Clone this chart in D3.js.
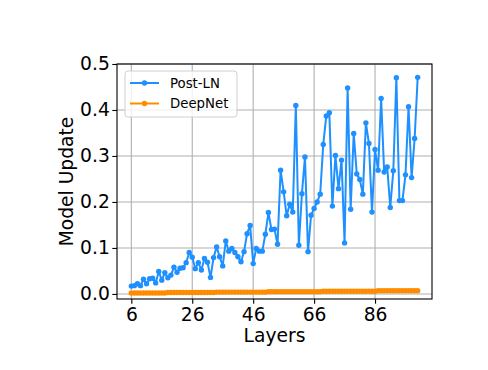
<!DOCTYPE html>
<html>
<head>
<meta charset="utf-8">
<script src="https://cdn.jsdelivr.net/npm/d3@7"></script>
<style>
  body { margin: 0; background: #fff; }
  text { font-family: "DejaVu Sans", sans-serif; fill: #000; }
</style>
</head>
<body>
<div id="chart"></div>
<script>
// layers 6..100, one value per layer
var layers = d3.range(6, 101);

var postLN = [
  0.017, 0.018, 0.022, 0.018, 0.032, 0.022, 0.033, 0.034, 0.024, 0.049,
  0.030, 0.046, 0.035, 0.041, 0.058, 0.047, 0.056, 0.057, 0.068, 0.090,
  0.080, 0.055, 0.068, 0.052, 0.077, 0.069, 0.036, 0.079, 0.102, 0.081,
  0.061, 0.115, 0.093, 0.099, 0.090, 0.081, 0.070, 0.092, 0.131, 0.149,
  0.066, 0.099, 0.093, 0.093, 0.130, 0.177, 0.140, 0.141, 0.108, 0.269,
  0.222, 0.170, 0.195, 0.178, 0.410, 0.106, 0.218, 0.298, 0.092, 0.171,
  0.186, 0.200, 0.217, 0.325, 0.387, 0.394, 0.191, 0.301, 0.229, 0.291,
  0.111, 0.448, 0.184, 0.349, 0.261, 0.249, 0.217, 0.372, 0.327, 0.178,
  0.314, 0.269, 0.425, 0.265, 0.276, 0.188, 0.268, 0.470, 0.203, 0.203,
  0.259, 0.407, 0.253, 0.338, 0.471
];

var deepNet = [
  0.002, 0.002, 0.002, 0.002, 0.002, 0.002, 0.002, 0.002, 0.002, 0.002,
  0.002, 0.002, 0.003, 0.003, 0.003, 0.003, 0.003, 0.003, 0.003, 0.003,
  0.003, 0.003, 0.003, 0.003, 0.003, 0.003, 0.003, 0.003, 0.004, 0.004,
  0.004, 0.004, 0.004, 0.004, 0.004, 0.004, 0.004, 0.004, 0.004, 0.004,
  0.004, 0.004, 0.004, 0.004, 0.004, 0.005, 0.005, 0.005, 0.005, 0.005,
  0.005, 0.005, 0.005, 0.005, 0.005, 0.005, 0.005, 0.005, 0.005, 0.005,
  0.005, 0.005, 0.005, 0.006, 0.006, 0.006, 0.006, 0.006, 0.006, 0.006,
  0.006, 0.006, 0.006, 0.006, 0.006, 0.006, 0.006, 0.006, 0.006, 0.006,
  0.006, 0.007, 0.007, 0.007, 0.007, 0.007, 0.007, 0.007, 0.007, 0.007,
  0.007, 0.007, 0.007, 0.007, 0.007
];

var xTicks = [6, 26, 46, 66, 86];
var yTicks = [0.0, 0.1, 0.2, 0.3, 0.4, 0.5];

var series = [
  {name: "Post-LN", values: postLN, color: "#1e90ff"},
  {name: "DeepNet", values: deepNet, color: "#ff8c00"}
];

var W = 488, H = 370;
var plot = {left: 117, right: 432, top: 64, bottom: 299};

var svg = d3.select("#chart").append("svg")
    .attr("width", W)
    .attr("height", H);

var x = d3.scaleLinear()
    .domain([1.3, 104.7])
    .range([plot.left, plot.right]);

var y = d3.scaleLinear()
    .domain([-0.011, 0.5])
    .range([plot.bottom, plot.top]);

// grid
svg.append("g")
  .selectAll("line")
  .data(xTicks)
  .enter()
  .append("line")
    .attr("x1", function(d) { return x(d); })
    .attr("x2", function(d) { return x(d); })
    .attr("y1", plot.top)
    .attr("y2", plot.bottom)
    .style("stroke", "#b0b0b0")
    .style("stroke-width", 1.1);

svg.append("g")
  .selectAll("line")
  .data(yTicks)
  .enter()
  .append("line")
    .attr("x1", plot.left)
    .attr("x2", plot.right)
    .attr("y1", function(d) { return y(d); })
    .attr("y2", function(d) { return y(d); })
    .style("stroke", "#b0b0b0")
    .style("stroke-width", 1.1);

// lines + markers
var line = d3.line()
    .x(function(d, i) { return x(layers[i]); })
    .y(function(d) { return y(d); });

series.forEach(function(s) {
  svg.append("path")
      .datum(s.values)
      .attr("d", line)
      .style("fill", "none")
      .style("stroke", s.color)
      .style("stroke-width", 2)
      .style("stroke-linejoin", "round");

  svg.append("g")
    .selectAll("circle")
    .data(s.values)
    .enter()
    .append("circle")
      .attr("cx", function(d, i) { return x(layers[i]); })
      .attr("cy", function(d) { return y(d); })
      .attr("r", 2.7)
      .style("fill", s.color);
});

// spines
svg.append("rect")
    .attr("x", plot.left)
    .attr("y", plot.top)
    .attr("width", plot.right - plot.left)
    .attr("height", plot.bottom - plot.top)
    .style("fill", "none")
    .style("stroke", "#000")
    .style("stroke-width", 1.1);

// axes
var xAxis = svg.append("g")
    .attr("transform", "translate(0," + plot.bottom + ")")
    .call(d3.axisBottom(x).tickValues(xTicks).tickSize(4.7).tickPadding(4).tickFormat(d3.format("d")));
var yAxis = svg.append("g")
    .attr("transform", "translate(" + plot.left + ",0)")
    .call(d3.axisLeft(y).tickValues(yTicks).tickSize(4.7).tickPadding(2.5).tickFormat(d3.format(".1f")));
[xAxis, yAxis].forEach(function(a) {
  a.select(".domain").remove();
  a.selectAll(".tick line").style("stroke", "#000").style("stroke-width", 1.1);
  a.selectAll(".tick text").style("font-size", "18.7px").style("font-family", "DejaVu Sans");
});

// axis labels
svg.append("text")
    .attr("text-anchor", "middle")
    .attr("x", (plot.left + plot.right) / 2)
    .attr("y", 342)
    .text("Layers")
    .style("font-size", "18.7px");

svg.append("text")
    .attr("text-anchor", "middle")
    .attr("transform", "translate(73," + (plot.top + plot.bottom) / 2 + ") rotate(-90)")
    .text("Model Update")
    .style("font-size", "18.7px");

// legend
var lg = svg.append("g");
lg.append("rect")
    .attr("x", 125).attr("y", 71)
    .attr("width", 112).attr("height", 46)
    .attr("rx", 3)
    .style("fill", "#fff").style("fill-opacity", 0.8)
    .style("stroke", "#d0d0d0").style("stroke-width", 1);
series.forEach(function(s, i) {
  var ly = 83 + i * 20.5;
  lg.append("line")
      .attr("x1", 130).attr("x2", 159)
      .attr("y1", ly).attr("y2", ly)
      .style("stroke", s.color).style("stroke-width", 2);
  lg.append("circle").attr("cx", 144.5).attr("cy", ly).attr("r", 2.7).style("fill", s.color);
  lg.append("text")
      .attr("x", 170).attr("y", ly)
      .attr("dy", "0.36em")
      .text(s.name)
      .style("font-size", "13.3px");
});
</script>
</body>
</html>
